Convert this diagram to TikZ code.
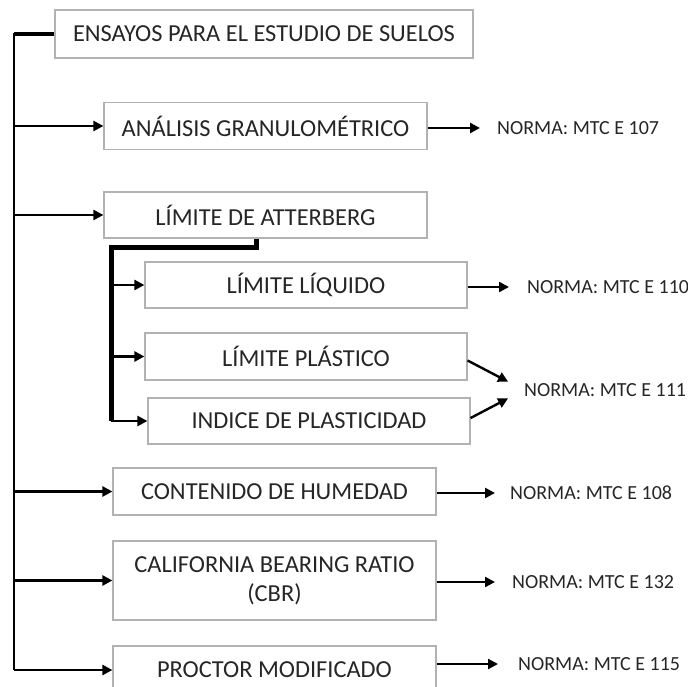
\documentclass[tikz,border=0pt]{standalone}
\usepackage{fontspec}
\setmainfont{Carlito}
\usepackage{tikz}
\usetikzlibrary{arrows.meta,positioning,calc}

\begin{document}
\begin{tikzpicture}[
  x=1pt,y=-1pt,
  box/.style={draw=black!30,line width=1.2pt,fill=white,text=black!85,minimum width=323pt,minimum height=47pt,font=\fontsize{24.4}{29}\selectfont,align=center},
  norma/.style={anchor=west,inner sep=0pt,text=black!85,font=\fontsize{20}{24}\selectfont},
  arr/.style={-{Triangle[length=10pt,width=10pt]},line width=2.4pt},
  >=Stealth
]
\clip (0,0) rectangle (688,686);
% Row 0 (top): title
\node[box,minimum width=418pt,minimum height=48pt] (ensayos) at (264,34) {ENSAYOS PARA EL ESTUDIO DE SUELOS};
% Rows 1-2: first two tests
\node[box] (granulo) at (265.5,126) {ANÁLISIS GRANULOMÉTRICO};
\node[box,minimum height=46pt] (atterberg) at (265.5,215) {LÍMITE DE ATTERBERG};
% Atterberg limits
\node[box,minimum width=322pt,minimum height=46pt] (liquido) at (306,285) {LÍMITE LÍQUIDO};
\node[box,minimum width=322pt] (plastico) at (306,356.5) {LÍMITE PLÁSTICO};
\node[box,minimum width=322pt,minimum height=46pt] (indice) at (309,421) {INDICE DE PLASTICIDAD};
% Remaining tests
\node[box] (humedad) at (274.5,491.5) {CONTENIDO DE HUMEDAD};
\node[box,minimum height=79pt] (cbr) at (274.5,580.5) {CALIFORNIA BEARING RATIO\\(CBR)};
\node[box,minimum height=48pt] (proctor) at (274.5,670) {PROCTOR MODIFICADO};
% Standards
\node[norma] (n107) at (497,128) {NORMA: MTC E 107};
\node[norma] (n110) at (527,287) {NORMA: MTC E 110};
\node[norma] (n111) at (524,390) {NORMA: MTC E 111};
\node[norma] (n108) at (510,493) {NORMA: MTC E 108};
\node[norma] (n132) at (512,582) {NORMA: MTC E 132};
\node[norma] (n115) at (518,664) {NORMA: MTC E 115};
% Trunk
\coordinate (t0) at (14,34);
\coordinate (b0) at (111,247);
\draw[line width=3.5pt] (ensayos.west) -- (t0);
\draw[line width=2.4pt] ([yshift=1.5pt]t0) -- (t0 |- proctor);
\draw[arr] (t0 |- granulo) -- (granulo.west);
\draw[arr] (t0 |- atterberg) -- (atterberg.west);
\draw[arr] (t0 |- humedad) -- (humedad.west);
\draw[arr] (t0 |- cbr) -- (cbr.west);
\draw[arr] (t0 |- proctor) -- (proctor.west);
% Bracket under Atterberg
\draw[line width=5pt] ([xshift=-9.5pt]atterberg.south) |- (b0) -- (b0 |- indice);
\draw[arr] (b0 |- liquido) -- (liquido.west);
\draw[arr] (b0 |- plastico) -- (plastico.west);
\draw[arr] (b0 |- indice) -- (indice.west);
% Edges to standards
\draw[arr,shorten >=17pt] (n107.west -| granulo.east) -- (n107.west);
\draw[arr,shorten >=18pt] (n110.west -| liquido.east) -- (n110.west);
\draw[arr,shorten >=15pt] (n108.west -| humedad.east) -- (n108.west);
\draw[arr,shorten >=17pt] (n132.west -| cbr.east) -- (n132.west);
\draw[arr,shorten >=20pt] (n115.west -| proctor.east) -- (n115.west);
\draw[arr,shorten >=18pt] ([yshift=-4pt]plastico.east) -- (n111.west);
\draw[arr,shorten >=18pt] ([yshift=3pt]indice.east) -- (n111.west);
\end{tikzpicture}
\end{document}
